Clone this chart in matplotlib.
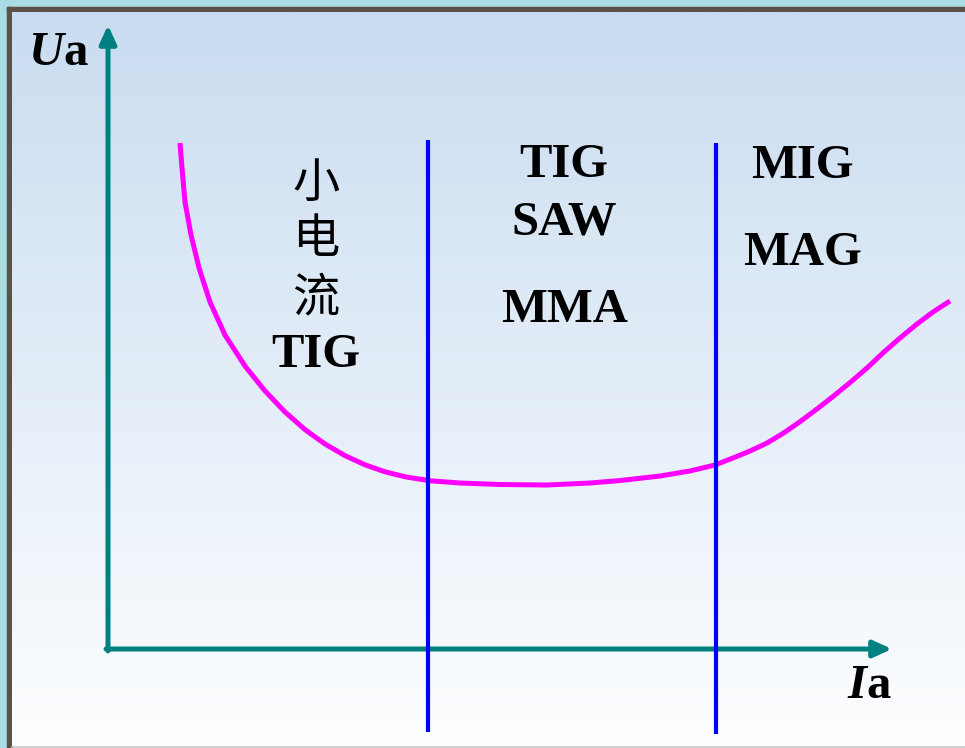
import matplotlib.pyplot as plt
import numpy as np
from matplotlib.patches import Rectangle

# ---- data (Ia, Ua in arbitrary units; axis arrows end at 100) ----
ia_curve = [9.18, 9.44, 9.82, 10.59, 11.61, 13.01, 14.92, 17.47, 20.03, 22.58,
            25.13, 27.68, 30.23, 32.78, 35.33, 37.88, 41.07, 44.90, 50.00, 55.99,
            61.48, 65.31, 70.41, 74.23, 77.42, 79.72, 81.89, 84.06, 86.22, 88.27,
            90.43, 92.47, 94.64, 96.81, 98.98, 101.02, 103.19, 105.23, 107.40]
ua_curve = [81.09, 77.08, 71.63, 66.35, 61.06, 55.61, 50.32, 45.35, 41.35, 37.98,
            35.16, 32.85, 30.99, 29.52, 28.40, 27.60, 26.96, 26.60, 26.36, 26.28,
            26.60, 27.00, 27.72, 28.53, 29.49, 30.61, 31.73, 33.01, 34.65, 36.44,
            38.46, 40.46, 42.69, 45.03, 47.60, 49.84, 52.08, 54.01, 55.77]

boundary_ia = [40.8, 77.5]
boundary_top = [81.6, 81.1]
boundary_bottom = [-13.3, -13.6]

# zone labels: (text, Ia, baseline Ua)
zone_latin = [('TIG', 26.5, 45.2),
              ('TIG', 58.2, 75.6), ('SAW', 58.2, 66.4), ('MMA', 58.2, 52.4),
              ('MIG', 88.6, 75.5), ('MAG', 88.6, 61.5)]
zone_cjk = [('小', 26.5, 72.4), ('电', 26.5, 63.5), ('流', 26.5, 54.0)]

W, H = 965, 748
fig = plt.figure(figsize=(W / 100, H / 100), dpi=100)

# ---- slide background (pixel coordinates) ----
bg = fig.add_axes([0, 0, 1, 1])
bg.set_xlim(0, W)
bg.set_ylim(H, 0)
bg.axis('off')
bg.add_patch(Rectangle((0, 0), W, H, color='#ffffff', zorder=0))
bg.add_patch(Rectangle((0, 0), W, 12, color='#a9dce3', zorder=1))
bg.add_patch(Rectangle((0, 0), 12, H, color='#a9dce3', zorder=1))
bg.add_patch(Rectangle((7, 7), W, 5, color='#5b5149', zorder=2))
bg.add_patch(Rectangle((7, 7), 5, H, color='#5b5149', zorder=2))
top = np.array([201, 220, 240]) / 255
bot = np.array([253, 254, 255]) / 255
t = np.linspace(0, 1, 256)[:, None]
grad = (top[None, :] * (1 - t) + bot[None, :] * t)[:, None, :]
bg.imshow(grad, extent=[12, W, 746, 12], aspect='auto', zorder=3)
bg.plot([12, W], [746.5, 746.5], color='#c8c8c8', lw=1.2, zorder=4)

# ---- chart axes (data coordinates) ----
ax = fig.add_axes([0, 0, 1, 1])
ax.set_xlim(-108 / 7.84, (W - 108) / 7.84)
ax.set_ylim((649 - H) / 6.24, 649 / 6.24)
ax.axis('off')
ax.patch.set_alpha(0)

teal = '#008080'
arrow = dict(arrowstyle='-|>,head_length=1.1,head_width=0.5', lw=3.6, color=teal,
             shrinkA=0, shrinkB=0, mutation_scale=10)
ax.annotate('', xy=(0, 100), xytext=(0, -0.3), arrowprops=arrow, zorder=2)
ax.annotate('', xy=(100, 0), xytext=(-0.25, 0), arrowprops=arrow, zorder=2)

ax.plot(ia_curve, ua_curve, color='#ff00ff', lw=3.6, solid_capstyle='butt',
        solid_joinstyle='round', zorder=3)

for x, y0, y1 in zip(boundary_ia, boundary_bottom, boundary_top):
    ax.plot([x, x], [y0, y1], color='#0000ff', lw=3.0, solid_capstyle='butt', zorder=4)

serif = 'Liberation Serif'
fs = 35
for s, x, y in zone_latin:
    ax.text(x, y, s, ha='center', va='baseline', fontsize=fs, fontweight='bold',
            family=serif, zorder=5)
for s, x, y in zone_cjk:
    ax.text(x, y, s, ha='center', va='baseline', fontsize=34, fontweight='medium',
            family=['Noto Sans CJK SC', 'DejaVu Sans'], zorder=5)

# axis names
ax.text(-5.7, 93.6, 'U', ha='right', va='baseline', fontsize=fs, fontweight='bold',
        style='italic', family=serif)
ax.text(-5.7, 93.6, 'a', ha='left', va='baseline', fontsize=fs, fontweight='bold',
        family=serif)
ax.text(96.7, -7.85, 'I', ha='right', va='baseline', fontsize=fs, fontweight='bold',
        style='italic', family=serif)
ax.text(96.7, -7.85, 'a', ha='left', va='baseline', fontsize=fs, fontweight='bold',
        family=serif)

plt.savefig('out.png', dpi=100)
